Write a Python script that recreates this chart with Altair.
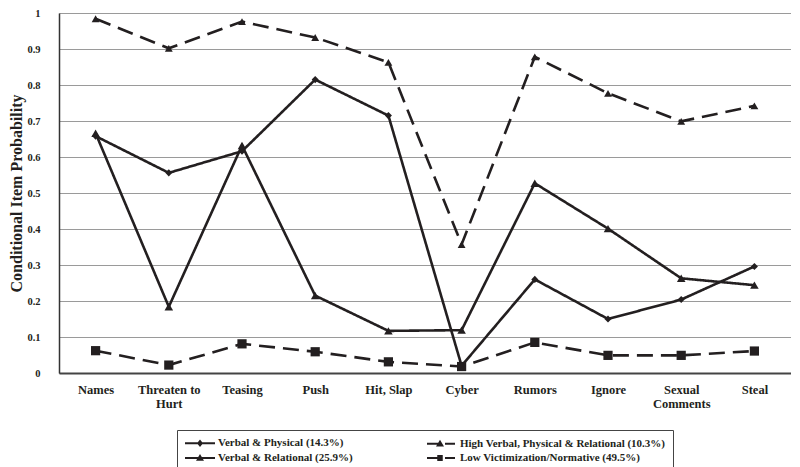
import altair as alt
import pandas as pd

items = ["Names", "Threaten to Hurt", "Teasing", "Push", "Hit, Slap",
         "Cyber", "Rumors", "Ignore", "Sexual Comments", "Steal"]

series_names = ["Verbal & Physical  (14.3%)",
                "High Verbal, Physical & Relational (10.3%)",
                "Verbal & Relational (25.9%)",
                "Low Victimization/Normative (49.5%)"]

verbal_physical = [0.658, 0.556, 0.616, 0.815, 0.715, 0.02, 0.26, 0.15, 0.204, 0.296]
high_vpr = [0.984, 0.902, 0.976, 0.932, 0.863, 0.357, 0.878, 0.777, 0.699, 0.742]
verbal_relational = [0.666, 0.184, 0.632, 0.215, 0.117, 0.119, 0.527, 0.401, 0.263, 0.244]
low_normative = [0.062, 0.022, 0.081, 0.059, 0.031, 0.018, 0.085, 0.049, 0.049, 0.061]

values = [verbal_physical, high_vpr, verbal_relational, low_normative]

rows = []
for name, vals in zip(series_names, values):
    for item, v in zip(items, vals):
        rows.append({"item": item, "prob": v, "series": name, "label": name})
df = pd.DataFrame(rows)

INK = "#231f20"
FONT = "Liberation Serif"

x_enc = alt.X(
    "item:N", sort=items, title=None,
    axis=alt.Axis(
        labelAngle=0, ticks=False, grid=False, labelPadding=10,
        labelFont=FONT, labelFontWeight="bold", labelFontSize=12.5,
        labelColor=INK, labelLineHeight=14,
        labelExpr="datum.value == 'Threaten to Hurt' ? ['Threaten to', 'Hurt'] : "
                  "datum.value == 'Sexual Comments' ? ['Sexual', 'Comments'] : datum.value",
        domainColor="#444", domainWidth=2,
    ),
)
y_enc = alt.Y(
    "prob:Q", title="Conditional Item Probability",
    scale=alt.Scale(domain=[0, 1], nice=False),
    axis=alt.Axis(
        values=[0, 0.1, 0.2, 0.3, 0.4, 0.5, 0.6, 0.7, 0.8, 0.9, 1.0],
        format=".1~f", ticks=False, labelPadding=19,
        labelFont=FONT, labelFontWeight="bold", labelFontSize=10.5, labelColor=INK,
        titleFont=FONT, titleFontWeight="bold", titleFontSize=16, titleColor=INK,
        titlePadding=2, gridColor="#9a9a9a", gridWidth=1.2,
        domainColor="#333", domainWidth=1.5,
    ),
)

lines = alt.Chart(df).mark_line(color=INK, strokeWidth=2.6).encode(
    x=x_enc, y=y_enc,
    strokeDash=alt.StrokeDash(
        "series:N",
        scale=alt.Scale(domain=series_names, range=[[1, 0], [16, 8], [1, 0], [16, 8]]),
        legend=None,
    ),
)

points = alt.Chart(df).mark_point(filled=True, color=INK, opacity=1).encode(
    x=x_enc, y=y_enc,
    shape=alt.Shape(
        "series:N",
        scale=alt.Scale(domain=series_names,
                        range=["diamond", "triangle-up", "triangle-up", "square"]),
        legend=None,
    ),
    size=alt.Size(
        "series:N",
        scale=alt.Scale(domain=series_names, range=[50, 85, 85, 60]),
        legend=None,
    ),
)

# legend order (column-major fill): VP, VR | High, Low
legend_order = [series_names[0], series_names[2], series_names[1], series_names[3]]
# filled shapes only: thin bars for the line pieces plus the marker
solid_diamond = "M-1,-0.2H5V0.2H-1ZM2,-0.75L2.6,0L2,0.75L1.4,0Z"
solid_triangle = "M-1,-0.2H5V0.2H-1ZM2,-0.8L2.8,0.55L1.2,0.55Z"
dashed_triangle = "M-1,-0.2H1.6V0.2H-1ZM2.6,-0.2H4.6V0.2H2.6ZM1.6,-0.8L2.4,0.55L0.8,0.55Z"
dashed_square = "M-1,-0.2H1.6V0.2H-1ZM2.6,-0.2H4.6V0.2H2.6ZM1.05,-0.6H2.15V0.6H1.05Z"

legend_layer = alt.Chart(df).transform_filter("false").mark_point(
    filled=True, color=INK, opacity=1
).encode(
    x=x_enc, y=y_enc,
    shape=alt.Shape(
        "label:N",
        scale=alt.Scale(domain=legend_order,
                        range=[solid_diamond, solid_triangle, dashed_triangle, dashed_square]),
        legend=alt.Legend(
            title=None, orient="none", legendX=118, legendY=417,
            columns=2, columnPadding=71, rowPadding=1, padding=7,
            strokeColor="#444", symbolSize=100, labelOffset=22,
            symbolFillColor=INK, symbolOpacity=1,
            labelFont=FONT, labelFontWeight="bold", labelFontSize=11,
            labelColor=INK, labelLimit=400,
        ),
    ),
)

chart = alt.layer(lines, points, legend_layer).resolve_scale(
    shape="independent"
).properties(
    width=732, height=360,
    padding={"left": 0, "top": 0, "right": 0, "bottom": 0},
).configure_view(stroke="#555", strokeWidth=1.2).configure(background="white")

chart.save("out.html", embed_options={"renderer": "svg", "actions": False})
